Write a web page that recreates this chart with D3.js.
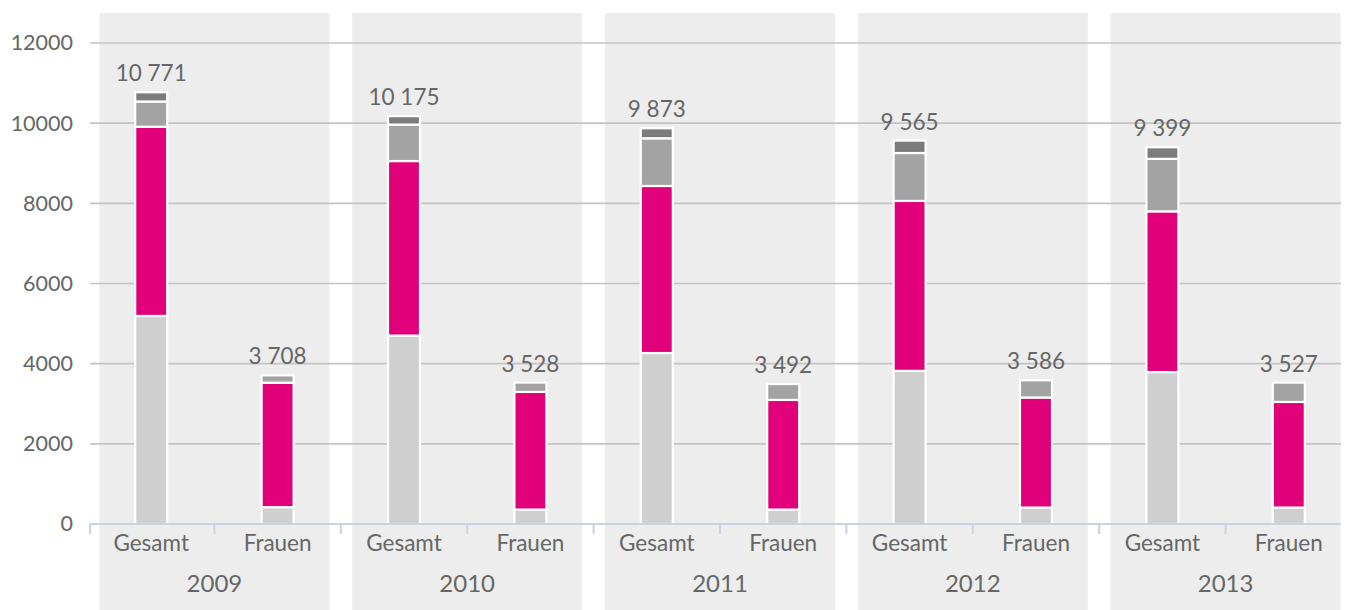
<!DOCTYPE html>
<html>
<head>
<meta charset="utf-8">
<script src="https://cdn.jsdelivr.net/npm/d3@7"></script>
<style>
    body { margin: 0; background: #fff; }
    svg text { font-family: Lato, "Open Sans", sans-serif; fill: #666; }
</style>
</head>
<body>
<svg id="chart" width="1357" height="610"></svg>
<script>
// years and the two bars per year
var years = ["2009", "2010", "2011", "2012", "2013"];
var categories = ["Gesamt", "Frauen"];

// stacked segments, one value per bar (year by year, Gesamt then Frauen)
var lightValues = [5190, 420, 4700, 360, 4265, 360, 3820, 410, 3790, 410];
var pinkValues  = [4720, 3105, 4355, 2935, 4168, 2735, 4240, 2745, 4010, 2635];
var midValues   = [630, 183, 910, 233, 1190, 397, 1195, 431, 1310, 482];
var darkValues  = [231, 0, 210, 0, 250, 0, 310, 0, 289, 0];
// totals printed above the bars
var totals = [10771, 3708, 10175, 3528, 9873, 3492, 9565, 3586, 9399, 3527];

var yTicks = [0, 2000, 4000, 6000, 8000, 10000, 12000];

var keys = ["light", "pink", "mid", "dark"];
var colors = {light: "#cfcfcf", pink: "#e2007a", mid: "#a3a3a3", dark: "#7c7c7c"};

// build one row per bar
var rows = [];
years.forEach(function (y, i) {
    categories.forEach(function (c, j) {
        var k = i * categories.length + j;
        rows.push({
            year: y, cat: c, total: totals[k],
            light: lightValues[k], pink: pinkValues[k],
            mid: midValues[k], dark: darkValues[k]
        });
    });
});

var svg = d3.select("#chart");
var plotLeft = 90, plotRight = 1341;
var barWidth = 32;

var xYear = d3.scaleBand().domain(years).range([88, 1352]);
var xCat = d3.scaleBand().domain(categories).range([0, xYear.bandwidth()]);
var yScale = d3.scaleLinear().domain([0, 12000]).range([524, 43]);

function barCenter(d) {
    return xYear(d.year) + xCat(d.cat) + xCat.bandwidth() / 2;
}

// shaded year bands
svg.append("g").selectAll("rect").data(years).enter()
    .append("rect")
    .attr("x", function (d) { return xYear(d) + xYear.bandwidth() / 2 - 115; })
    .attr("y", 13)
    .attr("width", 230)
    .attr("height", 610 - 13)
    .attr("fill", "#ededed");

// gridlines
svg.append("g").selectAll("line").data(yTicks.slice(1)).enter()
    .append("line")
    .attr("x1", plotLeft).attr("x2", plotRight)
    .attr("y1", function (d) { return yScale(d); })
    .attr("y2", function (d) { return yScale(d); })
    .attr("stroke", "#c4c4c4")
    .attr("stroke-width", 1.6);

// y axis labels
var yAxis = d3.axisLeft(yScale).tickValues(yTicks).tickSize(0).tickPadding(0)
    .tickFormat(d3.format("d"));
svg.append("g")
    .attr("transform", "translate(73,0)")
    .call(yAxis)
    .call(function (g) { g.select(".domain").remove(); })
    .selectAll("text")
        .attr("font-size", 21.5)
        .attr("font-family", null)
        .attr("fill", null);

// stacked bars
var series = d3.stack().keys(keys)(rows);
svg.append("g").selectAll("g").data(series).enter()
    .append("g")
    .attr("fill", function (s) { return colors[s.key]; })
    .selectAll("rect")
    .data(function (s) { return s.filter(function (p) { return p[1] > p[0]; }); })
    .enter()
    .append("rect")
    .attr("x", function (p) { return barCenter(p.data) - barWidth / 2; })
    .attr("width", barWidth)
    .attr("y", function (p) { return yScale(p[1]); })
    .attr("height", function (p) { return yScale(p[0]) - yScale(p[1]); })
    .attr("stroke", "#fff")
    .attr("stroke-width", 2.2);

// total labels
var fmt = d3.formatLocale({decimal: ",", thousands: " ", grouping: [3], currency: ["", ""]}).format(",d");
svg.append("g").selectAll("text").data(rows).enter()
    .append("text")
    .attr("x", barCenter)
    .attr("y", function (d) { return yScale(d.total) - 11; })
    .attr("text-anchor", "middle")
    .attr("font-size", 22.5)
    .text(function (d) { return fmt(d.total); });

// x axis line and ticks
var xAxisG = svg.append("g");
xAxisG.append("line")
    .attr("x1", plotLeft).attr("x2", plotRight)
    .attr("y1", 524).attr("y2", 524)
    .attr("stroke", "#c6d3e3").attr("stroke-width", 2);
var tickXs = [];
years.forEach(function (y) {
    tickXs.push(xYear(y));
    tickXs.push(xYear(y) + xCat("Frauen"));
});
tickXs = tickXs.map(function (x) { return Math.max(x, plotLeft); });
xAxisG.selectAll("line.tick").data(tickXs).enter()
    .append("line")
    .attr("class", "tick")
    .attr("x1", function (d) { return d; }).attr("x2", function (d) { return d; })
    .attr("y1", 524).attr("y2", 534)
    .attr("stroke", "#c6d3e3").attr("stroke-width", 2);

// category labels
xAxisG.selectAll("text.cat").data(rows).enter()
    .append("text")
    .attr("class", "cat")
    .attr("x", barCenter)
    .attr("y", 551)
    .attr("text-anchor", "middle")
    .attr("font-size", 22.5)
    .text(function (d) { return d.cat; });

// year labels
xAxisG.selectAll("text.year").data(years).enter()
    .append("text")
    .attr("class", "year")
    .attr("x", function (d) { return xYear(d) + xYear.bandwidth() / 2; })
    .attr("y", 592)
    .attr("text-anchor", "middle")
    .attr("font-size", 24)
    .text(function (d) { return d; });
</script>
</body>
</html>
